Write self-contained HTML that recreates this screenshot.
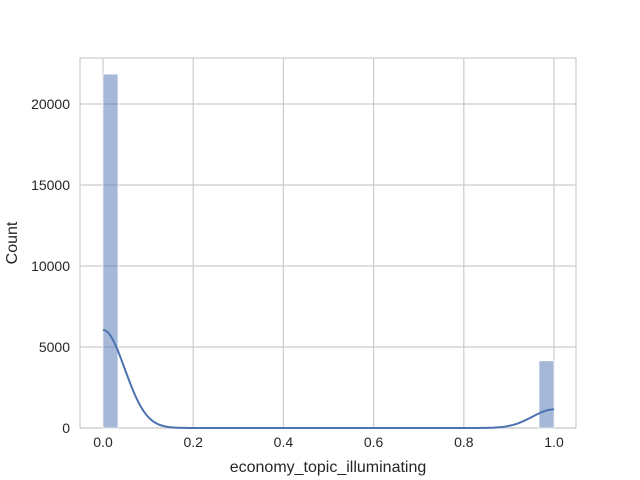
<!DOCTYPE html>
<html><head><meta charset="utf-8"><style>
body{margin:0;background:#fff;}
svg{display:block;font-family:"Liberation Sans","DejaVu Sans",sans-serif;}
</style></head><body>
<svg id="chart" width="640" height="480">
<rect x="80" y="58" width="496" height="370" fill="#fff" stroke="#cccccc" stroke-width="1.2"/>
<g id="grid"></g><g id="bars"></g><g id="kde"></g><g id="ticks"></g>
<text x="328" y="472" text-anchor="middle" font-size="16" fill="#262626">economy_topic_illuminating</text>
<text x="17" y="243" text-anchor="middle" font-size="16" fill="#262626" transform="rotate(-90 17 243)">Count</text>
</svg>
<script>
const binCounts=[21850,0,0,0,0,0,0,0,0,0,0,0,0,0,0,0,0,0,0,0,0,0,0,0,0,0,0,0,0,4150];
const xTicks=[0,0.2,0.4,0.6,0.8,1.0];
const xTickLabels=["0.0","0.2","0.4","0.6","0.8","1.0"];
const yTicks=[0,5000,10000,15000,20000];
const yTickLabels=["0","5000","10000","15000","20000"];
const bandwidth=0.048;
const NS="http://www.w3.org/2000/svg";
const X=v=>103+v*451, Y=v=>428-v*0.0162;
function mk(t,a,p){const e=document.createElementNS(NS,t);for(const k in a)e.setAttribute(k,a[k]);p.appendChild(e);return e;}
const g=document.getElementById('grid'),tk=document.getElementById('ticks');
xTicks.forEach((v,i)=>{
 const l=mk('line',{x1:X(v),x2:X(v),y1:58,y2:428,stroke:'#cccccc','stroke-width':1.2},g);
 
 
 const t=mk('text',{x:X(v),y:447,'text-anchor':'middle','font-size':14,fill:'#262626'},tk);t.textContent=xTickLabels[i];
 
 
});
yTicks.forEach((v,i)=>{
 const l=mk('line',{x1:80,x2:576,y1:Y(v),y2:Y(v),stroke:'#cccccc','stroke-width':1.2},g);
 
 
 const t=mk('text',{x:70,y:Y(v)+5,'text-anchor':'end','font-size':14,fill:'#262626'},tk);t.textContent=yTickLabels[i];
 
 
});
const b=document.getElementById('bars'),n=binCounts.length,w=1/n;
binCounts.forEach((c,i)=>{if(!c)return;
 const r=mk('rect',{x:X(i*w),y:Y(c),width:X((i+1)*w)-X(i*w),height:Y(0)-Y(c),fill:'#4c72b0','fill-opacity':0.5,stroke:'#fff','stroke-width':0.8},b);
 
 
});
let pts=[];
for(let k=0;k<=300;k++){const x=k/300;let d=0;
 binCounts.forEach((c,i)=>{const m=i/(n-1);d+=c*w*Math.exp(-0.5*((x-m)/bandwidth)**2)/(bandwidth*Math.sqrt(2*Math.PI));});
 pts.push(X(x).toFixed(1)+','+Y(d).toFixed(1));}
const p=mk('polyline',{points:pts.join(' '),fill:'none',stroke:'#4c72b0','stroke-width':2},document.getElementById('kde'));


</script>
</body></html>
